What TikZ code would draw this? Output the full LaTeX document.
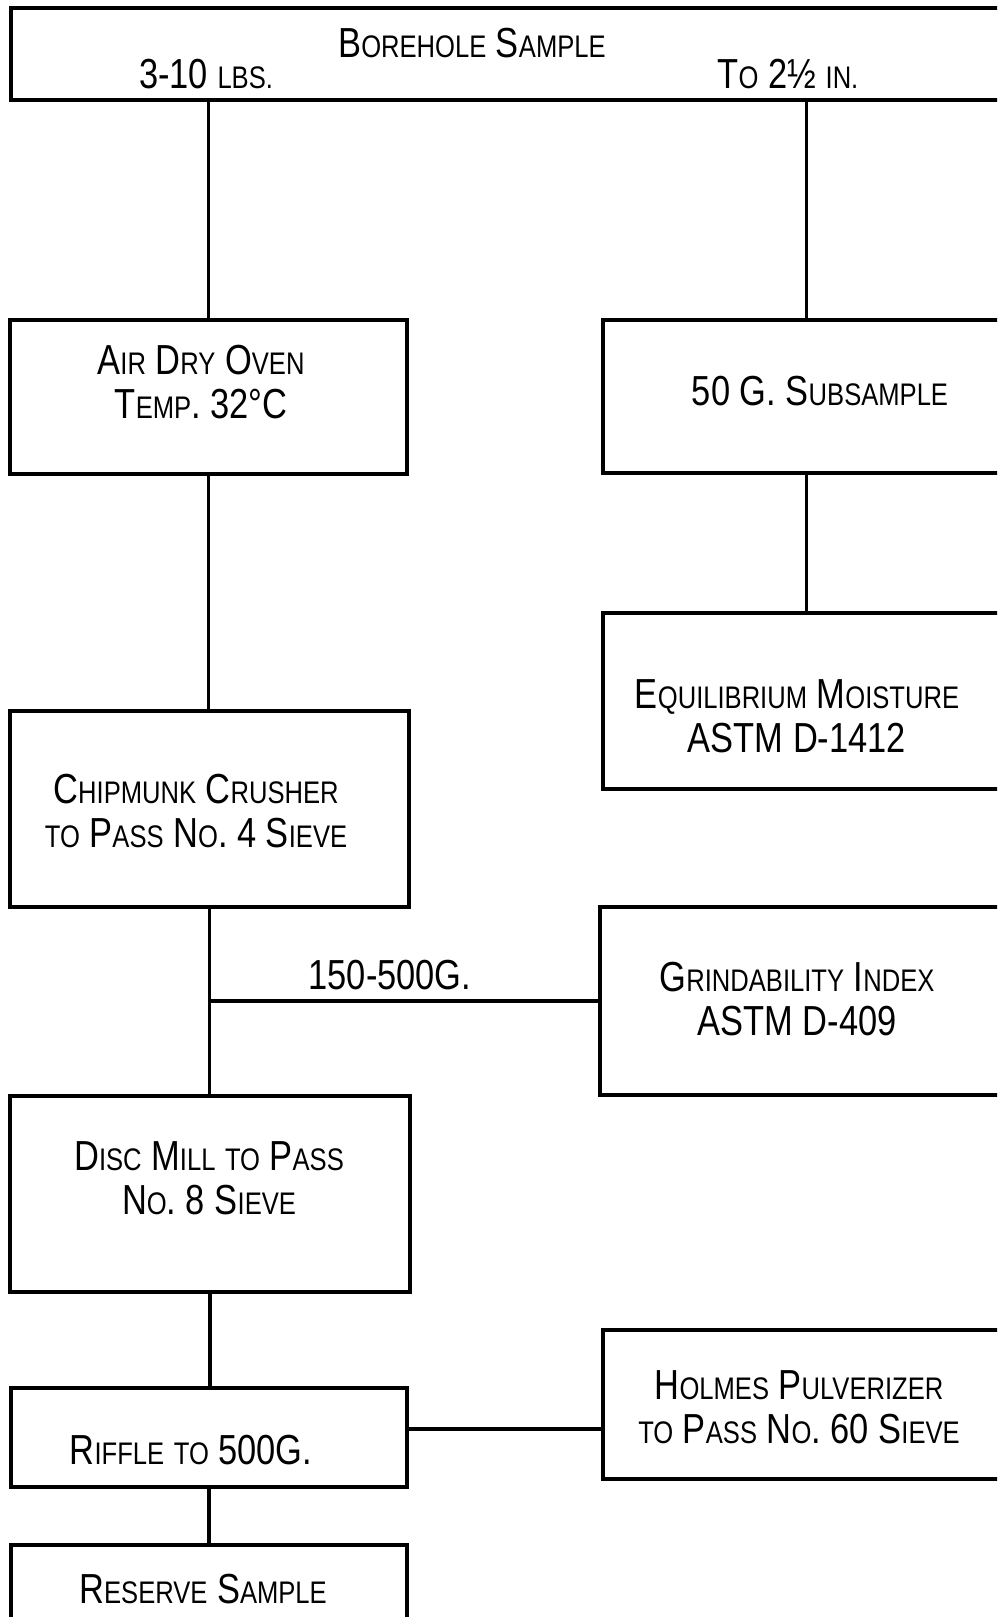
\documentclass[tikz,border=0pt]{standalone}
\usepackage{fontspec}
\usepackage{graphicx}
\setmainfont{Liberation Sans}
\usetikzlibrary{fit}
\newcommand\lc[1]{{\fontsize{15.6}{22}\selectfont #1}}
\newcommand\tx[1]{\scalebox{0.82}[1]{\begin{tabular}{@{}c@{}}#1\end{tabular}}}
\begin{document}
\begin{tikzpicture}[x=0.5pt,y=-0.5pt,
  box/.style={draw, line width=1.6pt, inner sep=0pt, rectangle},
  conn/.style={line width=1.6pt},
  lbl/.style={inner sep=0pt, font={\fontsize{21}{22}\selectfont}}]
\useasboundingbox (0,0) rectangle (997,1617);
\clip (0,0) rectangle (997,1617);
\fill[white] (0,0) rectangle (997,1617);
% boxes
\node[box, fit={(11,8) (1010,100)}] (top) {};
\node[box, fit={(10,320) (407,474)}] (air) {};
\node[box, fit={(603,320) (1010,473)}] (sub) {};
\node[box, fit={(603,613) (1010,789)}] (eq) {};
\node[box, fit={(10,711) (409,907)}] (chip) {};
\node[box, fit={(600,907) (1010,1095)}] (grind) {};
\node[box, fit={(10,1096) (410,1292)}] (disc) {};
\node[box, fit={(11,1388) (407,1487)}] (riffle) {};
\node[box, fit={(603,1330) (1010,1479)}] (holmes) {};
\node[box, fit={(11,1545) (407,1650)}] (reserve) {};
% texts
\node[lbl] (ttop) at (472,49) {\tx{B\lc{OREHOLE} S\lc{AMPLE}}};
\node[lbl] (tlbs) at (206,80) {\tx{3-10 \lc{LBS.}}};
\node[lbl] (tin) at (788,80) {\tx{T\lc{O} 2½ \lc{IN.}}};
\node[lbl] (tair) at (201,388) {\tx{A\lc{IR} D\lc{RY} O\lc{VEN}\\T\lc{EMP}. 32°C}};
\node[lbl] (tsub) at (820,397) {\tx{50 G. S\lc{UBSAMPLE}}};
\node[lbl] (teq) at (797,722) {\tx{E\lc{QUILIBRIUM} M\lc{OISTURE}\\ASTM D-1412}};
\node[lbl] (tchip) at (196,817) {\tx{C\lc{HIPMUNK} C\lc{RUSHER}\\\lc{TO} P\lc{ASS} N\lc{O}. 4 S\lc{IEVE}}};
\node[lbl] (tgr) at (797,1005) {\tx{G\lc{RINDABILITY} I\lc{NDEX}\\ASTM D-409}};
\node[lbl] (tdisc) at (209,1184) {\tx{D\lc{ISC} M\lc{ILL} \lc{TO} P\lc{ASS}\\N\lc{O}. 8 S\lc{IEVE}}};
\node[lbl] (trif) at (191,1456) {\tx{R\lc{IFFLE} \lc{TO} 500G.}};
\node[lbl] (thol) at (799,1413) {\tx{H\lc{OLMES} P\lc{ULVERIZER}\\\lc{TO} P\lc{ASS} N\lc{O}. 60 S\lc{IEVE}}};
\node[lbl] (tres) at (203,1595) {\tx{R\lc{ESERVE} S\lc{AMPLE}}};
\node[lbl] (t150) at (390,981) {\tx{150-500G.}};
% connectors
\draw[conn] (air.north) -- (air.north |- top.south);
\draw[conn] (sub.north) -- (sub.north |- top.south);
\draw[conn] (air.south) -- (air.south |- chip.north);
\draw[conn] (sub.south) -- (sub.south |- eq.north);
\draw[conn] (chip.south) -- (chip.south |- disc.north);
\draw[conn] (grind.west) -- (grind.west -| chip.south);
\draw[conn] (disc.south) -- (disc.south |- riffle.north);
\draw[conn] (riffle.east |- 0,1429) -- (holmes.west |- 0,1429);
\draw[conn] (riffle.south) -- (riffle.south |- reserve.north);
\end{tikzpicture}
\end{document}
